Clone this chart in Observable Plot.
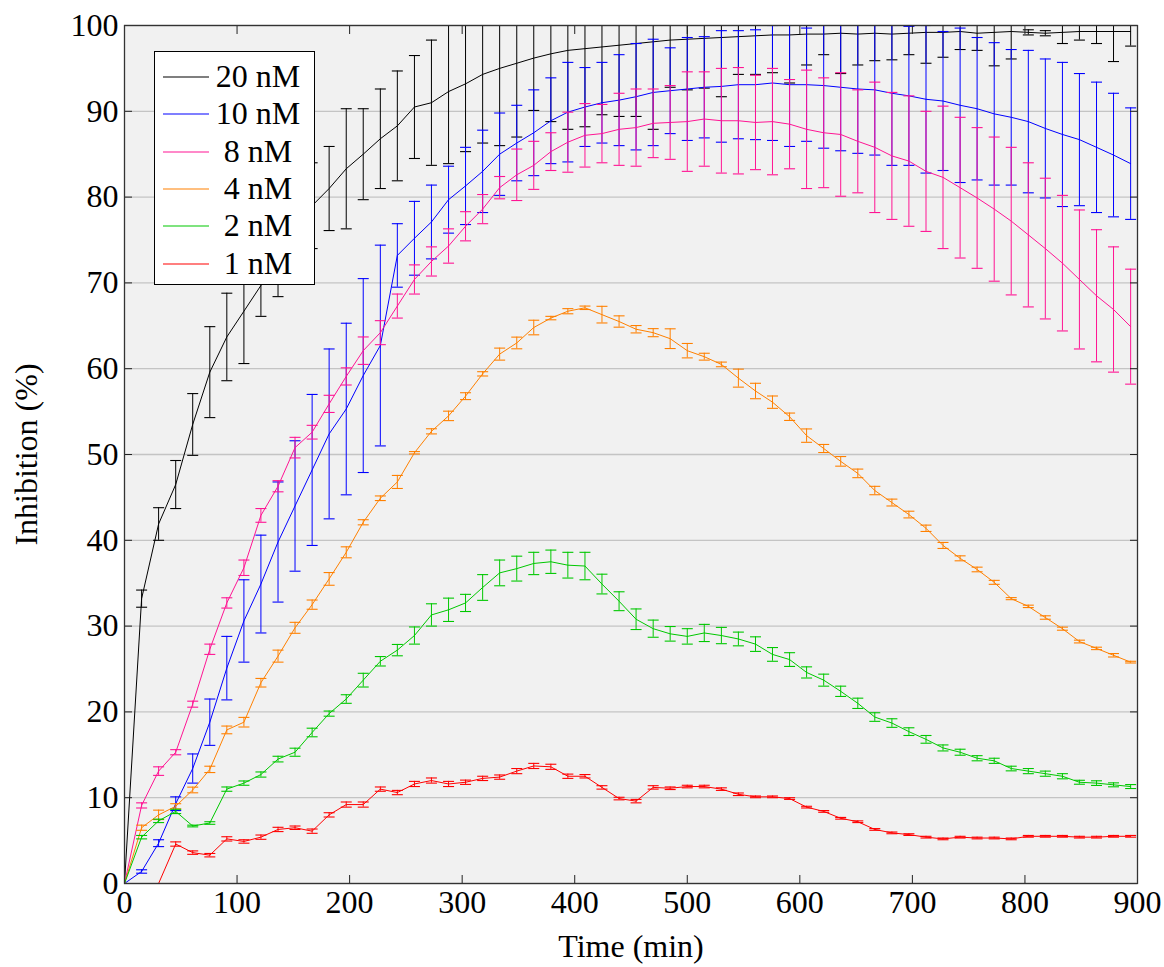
<!DOCTYPE html>
<html>
<head>
<meta charset="utf-8">
<script src="https://cdn.jsdelivr.net/npm/d3@7"></script>
<script src="https://cdn.jsdelivr.net/npm/@observablehq/plot@0.6"></script>
<style>
  html, body { margin: 0; padding: 0; background: #fff; }
  #wrap { position: relative; width: 1164px; height: 967px; }
  #legend {
    position: absolute; left: 154px; top: 51px; width: 161px; height: 234px;
    background: #fff; border: 1.3px solid #000; box-sizing: border-box;
    font-family: "Liberation Serif", "DejaVu Serif", serif;
    font-size: 32px; color: #000;
  }
  .row { position: absolute; left: 0; height: 37px; width: 160px; }
  .row svg { position: absolute; left: 8px; top: 17px; }
  .row span { position: absolute; left: 57px; width: 92px; text-align: center; top: 0; line-height: 37px; }
</style>
</head>
<body>
<div id="wrap"><div id="legend"></div></div>
<script>
// time points (min)
const times = [0, 15.2, 30.3, 45.5, 60.6, 75.8, 90.9, 106.1, 121.2, 136.4, 151.5, 166.7, 181.8, 197.0, 212.1, 227.3, 242.4, 257.6, 272.7, 287.9, 303.0, 318.2, 333.3, 348.5, 363.6, 378.8, 393.9, 409.1, 424.2, 439.4, 454.5, 469.7, 484.8, 500.0, 515.1, 530.3, 545.4, 560.6, 575.7, 590.9, 606.0, 621.2, 636.3, 651.5, 666.6, 681.8, 696.9, 712.1, 727.2, 742.4, 757.5, 772.7, 787.8, 803.0, 818.1, 833.3, 848.4, 863.6, 878.7, 893.9];

const series = ["20 nM", "10 nM", "8 nM", "4 nM", "2 nM", "1 nM"];
const colors = ["#000000", "#0000ff", "#ff1493", "#ff8000", "#00c800", "#ff0000"];

const mean20 = [0, 33.2, 41.9, 46.5, 53.5, 59.6, 63.7, 66.7, 69.7, 72.8, 76.0, 79.0, 81.0, 83.3, 85.0, 86.8, 88.3, 90.5, 91.0, 92.3, 93.2, 94.3, 95.0, 95.6, 96.2, 96.7, 97.1, 97.3, 97.5, 97.7, 97.9, 98.1, 98.3, 98.4, 98.5, 98.6, 98.7, 98.8, 98.9, 98.9, 99.0, 99.0, 99.1, 99.0, 99.1, 99.0, 99.1, 99.2, 99.2, 99.3, 99.1, 99.2, 99.3, 99.2, 99.1, 99.2, 99.3, 99.3, 99.3, 99.3];
const err20 = [0, 1.0, 1.9, 2.8, 3.6, 5.3, 5.1, 6.1, 3.6, 4.4, 5.0, 5.0, 4.9, 7.0, 5.3, 5.8, 6.4, 6.0, 7.3, 8.4, 7.9, 8.0, 9.0, 8.6, 6.1, 7.9, 9.2, 9.1, 7.9, 8.3, 8.5, 10.2, 5.5, 5.9, 5.8, 6.9, 4.4, 4.5, 4.4, 5.6, 3.6, 2.4, 4.7, 3.6, 3.2, 3.0, 2.5, 3.6, 2.9, 2.1, 2.0, 3.9, 3.2, 0.3, 0.3, 1.3, 1.0, 1.4, 3.5, 1.7];

const mean10 = [0, 1.4, 4.7, 9.3, 13.4, 18.8, 25.1, 30.6, 34.9, 39.8, 44.0, 48.2, 52.4, 55.3, 59.2, 62.7, 73.2, 75.2, 77.1, 79.7, 81.3, 83.0, 85.0, 86.3, 87.5, 88.9, 89.9, 90.5, 91.0, 91.3, 91.7, 92.2, 92.4, 92.6, 92.8, 92.9, 93.1, 93.1, 93.3, 93.1, 93.1, 93.0, 92.8, 92.6, 92.5, 92.1, 91.8, 91.4, 91.2, 90.7, 90.3, 89.7, 89.3, 88.8, 88.0, 87.3, 86.7, 85.8, 84.9, 83.9];
const err10 = [0, 0.2, 0.4, 0.8, 1.7, 2.7, 3.7, 4.8, 5.7, 7.0, 7.6, 8.8, 9.9, 10.0, 11.3, 11.7, 3.7, 4.3, 4.3, 3.9, 4.5, 4.8, 4.8, 4.4, 5.0, 5.0, 5.8, 4.6, 4.7, 5.3, 6.2, 6.2, 5.0, 6.0, 5.9, 6.5, 6.3, 6.4, 6.7, 7.2, 6.6, 7.3, 7.4, 7.5, 7.6, 8.4, 8.1, 8.6, 8.1, 9.0, 8.3, 8.3, 7.9, 8.3, 8.1, 8.4, 7.7, 7.6, 7.2, 6.5];

const mean8 = [0, 9.1, 13.1, 15.3, 20.9, 27.3, 32.7, 36.8, 42.9, 46.3, 50.8, 52.6, 55.9, 59.1, 62.1, 64.2, 67.3, 70.4, 72.5, 74.3, 76.6, 78.6, 81.1, 82.6, 83.7, 85.3, 86.4, 87.2, 87.4, 87.9, 88.1, 88.6, 88.7, 88.8, 89.1, 88.9, 88.9, 88.7, 88.8, 88.5, 87.9, 87.5, 87.3, 86.5, 85.8, 84.8, 84.2, 83.0, 82.3, 81.1, 79.9, 78.6, 77.2, 75.6, 74.0, 72.3, 70.4, 68.5, 66.9, 64.9];
const err8 = [0, 0.3, 0.5, 0.3, 0.35, 0.6, 0.6, 0.9, 0.8, 0.65, 1.2, 0.8, 1.0, 1.0, 1.6, 1.4, 1.4, 1.7, 1.7, 2.0, 1.7, 1.7, 1.3, 3.0, 2.8, 2.2, 3.5, 3.7, 3.4, 4.2, 4.5, 4.0, 4.3, 5.8, 5.5, 6.1, 6.2, 5.5, 6.2, 5.2, 6.9, 6.4, 7.2, 6.0, 7.6, 7.4, 7.6, 7.0, 8.3, 8.2, 8.2, 8.4, 8.6, 8.4, 8.2, 7.9, 8.1, 7.7, 7.3, 6.7];

const mean4 = [0, 6.5, 8.0, 9.0, 10.9, 13.3, 17.9, 18.8, 23.4, 26.5, 29.8, 32.5, 35.5, 38.6, 42.1, 44.9, 46.8, 50.2, 52.7, 54.5, 56.8, 59.4, 61.7, 63.0, 64.8, 65.9, 66.7, 67.1, 66.3, 65.5, 64.6, 64.2, 63.5, 62.1, 61.4, 60.5, 58.9, 57.4, 56.1, 54.4, 52.2, 50.7, 49.2, 47.8, 45.8, 44.4, 43.0, 41.4, 39.4, 37.9, 36.6, 35.1, 33.2, 32.3, 31.0, 29.7, 28.2, 27.4, 26.6, 25.8];
const err4 = [0, 0.3, 0.55, 0.3, 0.33, 0.37, 0.45, 0.56, 0.5, 0.7, 0.64, 0.54, 0.74, 0.64, 0.3, 0.27, 0.76, 0.14, 0.3, 0.55, 0.4, 0.25, 0.7, 0.68, 0.85, 0.2, 0.3, 0.2, 0.97, 0.66, 0.43, 0.47, 1.15, 0.84, 0.4, 0.27, 1.05, 0.9, 0.72, 0.43, 0.78, 0.47, 0.56, 0.5, 0.49, 0.4, 0.39, 0.37, 0.35, 0.29, 0.27, 0.23, 0.12, 0.14, 0.2, 0.18, 0.16, 0.14, 0.2, 0.1];

const mean2 = [0, 5.4, 7.3, 8.4, 6.7, 7.05, 11.0, 11.7, 12.7, 14.5, 15.3, 17.6, 19.8, 21.5, 23.7, 25.9, 27.2, 28.9, 31.3, 31.9, 32.7, 34.5, 36.2, 36.7, 37.3, 37.5, 37.1, 37.0, 34.9, 32.9, 30.8, 29.7, 29.1, 28.8, 29.2, 28.9, 28.5, 27.9, 26.7, 26.1, 24.6, 23.7, 22.4, 21.0, 19.4, 18.7, 17.7, 16.8, 15.8, 15.3, 14.6, 14.3, 13.4, 13.1, 12.8, 12.5, 11.8, 11.7, 11.5, 11.3];
const err2 = [0, 0.2, 0.2, 0.25, 0.1, 0.15, 0.25, 0.25, 0.3, 0.33, 0.47, 0.5, 0.3, 0.5, 0.8, 0.55, 0.66, 1.0, 1.3, 1.36, 1.0, 1.5, 1.5, 1.45, 1.3, 1.36, 1.5, 1.6, 1.15, 1.1, 1.2, 1.0, 0.85, 0.9, 1.0, 0.95, 0.8, 0.85, 0.8, 0.8, 0.65, 0.7, 0.6, 0.6, 0.5, 0.5, 0.45, 0.45, 0.35, 0.35, 0.3, 0.3, 0.27, 0.3, 0.3, 0.3, 0.23, 0.27, 0.23, 0.23];

const mean1 = [0, 0, 0, 4.6, 3.6, 3.3, 5.2, 4.9, 5.4, 6.3, 6.5, 6.1, 8.0, 9.2, 9.2, 11.0, 10.6, 11.6, 12.0, 11.6, 11.8, 12.25, 12.4, 13.1, 13.7, 13.6, 12.5, 12.5, 11.2, 9.9, 9.6, 11.2, 11.1, 11.3, 11.3, 11.0, 10.4, 10.1, 10.1, 9.9, 8.9, 8.4, 7.6, 7.2, 6.3, 5.9, 5.7, 5.4, 5.2, 5.4, 5.3, 5.3, 5.2, 5.5, 5.5, 5.5, 5.4, 5.4, 5.5, 5.5];
const err1 = [0, 0, 0, 0.25, 0.2, 0.2, 0.25, 0.2, 0.25, 0.25, 0.2, 0.25, 0.25, 0.3, 0.3, 0.25, 0.25, 0.3, 0.3, 0.3, 0.25, 0.25, 0.25, 0.3, 0.3, 0.3, 0.25, 0.2, 0.2, 0.15, 0.2, 0.2, 0.15, 0.15, 0.15, 0.15, 0.15, 0.1, 0.1, 0.1, 0.1, 0.1, 0.1, 0.1, 0.1, 0.1, 0.1, 0.1, 0.1, 0.1, 0.1, 0.1, 0.1, 0.1, 0.1, 0.1, 0.1, 0.1, 0.1, 0.1];

const xTicks = [0, 100, 200, 300, 400, 500, 600, 700, 800, 900];
const yTicks = [0, 10, 20, 30, 40, 50, 60, 70, 80, 90, 100];

const means = [mean20, mean10, mean8, mean4, mean2, mean1];
const errs = [err20, err10, err8, err4, err2, err1];

const FONT = "\"Liberation Serif\", \"DejaVu Serif\", serif";

// horizontal cap symbol for error bars
const capSymbol = {
  draw(context, size) {
    const r = Math.sqrt(size / Math.PI);
    context.moveTo(-r, 0);
    context.lineTo(r, 0);
  }
};

const marks = [Plot.frame({fill: "#f1f1f1", stroke: null}),
  Plot.gridY(yTicks, {stroke: "#c4c4c4", strokeOpacity: 1, strokeWidth: 1.3})];

series.forEach((s, k) => {
  const rows = times.map((t, i) => ({series: s, t, v: means[k][i], e: errs[k][i]}));
  const withErr = rows.filter(d => d.e > 0);
  const caps = withErr.flatMap(d => [{series: s, t: d.t, y: d.v - d.e}, {series: s, t: d.t, y: d.v + d.e}]);
  marks.push(
    Plot.ruleX(withErr, {x: "t", y1: d => d.v - d.e, y2: d => d.v + d.e, stroke: "series", strokeWidth: 1, clip: true}),
    Plot.dot(caps, {x: "t", y: "y", stroke: "series", symbol: capSymbol, r: 5.5, fill: "none", strokeWidth: 1.1, clip: true}),
    Plot.line(rows, {x: "t", y: "v", stroke: "series", strokeWidth: 1, clip: true})
  );
});

marks.push(
  Plot.axisX(xTicks, {anchor: "bottom", tickSize: -8, tickPadding: 15, label: "Time (min)", labelAnchor: "center", labelOffset: 73, labelArrow: "none", stroke: "#222"}),
  Plot.axisX(xTicks, {anchor: "top", tickSize: -8, tickFormat: () => "", label: null, stroke: "#222"}),
  Plot.axisY(yTicks, {anchor: "left", tickSize: -8, tickPadding: 14, label: "Inhibition (%)", labelAnchor: "center", labelOffset: 110, labelArrow: "none", stroke: "#222"}),
  Plot.axisY(yTicks, {anchor: "right", tickSize: -8, tickFormat: () => "", label: null, stroke: "#222"}),
  Plot.frame({stroke: "#333", strokeWidth: 1.3})
);

const chart = Plot.plot({
  width: 1164,
  height: 967,
  marginLeft: 124,
  marginRight: 27,
  marginTop: 25,
  marginBottom: 84,
  style: {fontFamily: FONT, fontSize: "32px", background: "transparent", color: "#000"},
  x: {domain: [0, 900]},
  y: {domain: [0, 100]},
  color: {domain: series, range: colors},
  marks
});

const wrap = document.getElementById("wrap");
wrap.insertBefore(chart, wrap.firstChild);

// legend inside the plot area
const legend = document.getElementById("legend");
series.forEach((s, k) => {
  const row = document.createElement("div");
  row.className = "row";
  row.style.top = (6 + k * 37.3) + "px";
  row.innerHTML = `<svg width="46" height="4"><line x1="0" y1="2" x2="46" y2="2" stroke="${colors[k]}" stroke-width="1.2"/></svg><span>${s}</span>`;
  legend.appendChild(row);
});
</script>
</body>
</html>
